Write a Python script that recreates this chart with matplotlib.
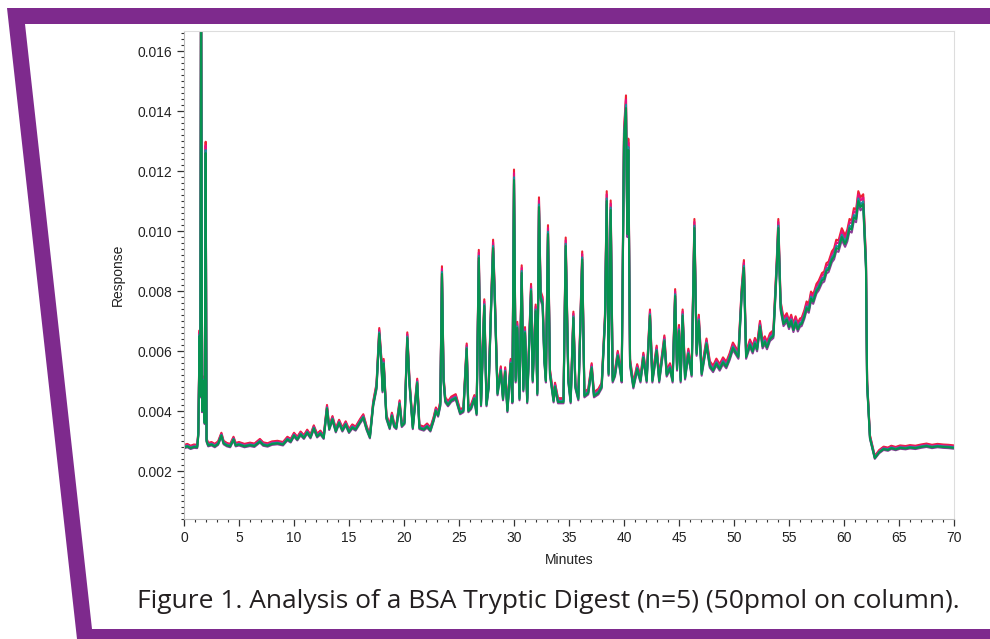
# -*- coding: utf-8 -*-

# import modules
import numpy as np
import matplotlib
matplotlib.use('Agg')
import matplotlib.pyplot as plt
from matplotlib.patches import Polygon
from matplotlib.ticker import MultipleLocator, FormatStrFormatter

plt.rcParams['font.family'] = ['Liberation Sans', 'DejaVu Sans']

# retention time (minutes) and detector response
minutes = [0.0, 0.3, 0.6, 0.9, 1.2, 1.3, 1.42, 1.48, 1.55, 1.65, 1.73, 1.88, 1.97, 2.05, 2.2,
           2.5, 2.8, 3.1, 3.4, 3.6, 3.9, 4.2, 4.5, 4.7, 5.0, 5.5, 6.0, 6.4, 6.9, 7.2, 7.6,
           8.0, 8.5, 9.0, 9.4, 9.7, 10.0, 10.3, 10.6, 10.9, 11.2, 11.5, 11.8, 12.1, 12.4,
           12.7, 13.0, 13.2, 13.5, 13.8, 14.1, 14.4, 14.7, 15.0, 15.3, 15.6, 16.0, 16.3,
           16.6, 16.9, 17.2, 17.5, 17.75, 17.95, 18.05, 18.15, 18.4, 18.7, 18.9, 19.1,
           19.3, 19.6, 19.8, 20.05, 20.3, 20.5, 20.8, 21.2, 21.4, 21.8, 22.1, 22.4, 22.7,
           22.9, 23.1, 23.3, 23.45, 23.6, 23.75, 24.0, 24.3, 24.7, 25.1, 25.4, 25.7, 25.85,
           26.1, 26.4, 26.6, 26.8, 27.0, 27.3, 27.5, 27.7, 27.9, 28.1, 28.25, 28.5, 28.8,
           29.0, 29.2, 29.4, 29.7, 29.85, 30.0, 30.15, 30.3, 30.5, 30.7, 30.85, 31.0, 31.2,
           31.55, 31.7, 31.97, 32.12, 32.27, 32.42, 32.6, 32.76, 32.9, 33.09, 33.27, 33.6,
           33.73, 34.0, 34.5, 34.7, 34.94, 35.15, 35.4, 35.58, 35.85, 36.2, 36.4, 36.75,
           37.06, 37.27, 37.67, 37.97, 38.27, 38.43, 38.6, 38.79, 38.97, 39.18, 39.43,
           39.64, 39.79, 40.0, 40.18, 40.3, 40.39, 40.55, 40.85, 41.2, 41.5, 41.76, 42.06,
           42.36, 42.58, 42.97, 43.2, 43.67, 43.88, 44.18, 44.42, 44.65, 44.82, 45.0,
           45.15, 45.33, 45.55, 45.85, 46.15, 46.4, 46.6, 46.8, 47.06, 47.5, 47.8, 48.1,
           48.4, 48.7, 49.0, 49.3, 49.6, 49.9, 50.4, 50.7, 50.9, 51.1, 51.45, 51.7, 51.9,
           52.1, 52.36, 52.6, 52.8, 53.0, 53.27, 53.58, 53.9, 54.03, 54.24, 54.5, 54.8,
           55.0, 55.2, 55.4, 55.6, 55.8, 56.0, 56.15, 56.4, 56.6, 56.8, 57.0, 57.2, 57.5,
           57.7, 58.0, 58.2, 58.4, 58.6, 58.9, 59.1, 59.3, 59.5, 59.8, 60.1, 60.3, 60.5,
           60.7, 60.9, 61.1, 61.3, 61.5, 61.75, 62.0, 62.1, 62.36, 62.8, 63.2, 63.6, 64.0,
           64.3, 64.7, 65.1, 65.6, 66.0, 66.5, 67.0, 67.5, 68.0, 68.5, 69.0, 69.5, 70.0]

response = [0.00278, 0.00282, 0.00276, 0.00280, 0.00279, 0.00320, 0.00650, 0.00450, 0.01900,
            0.00400, 0.00500, 0.00360, 0.01260, 0.00300, 0.00285,
            0.00288, 0.00282, 0.00290, 0.00318, 0.00292, 0.00285, 0.00282, 0.00305, 0.00285,
            0.00288, 0.00282, 0.00286, 0.00283, 0.00298, 0.00287, 0.00284,
            0.00290, 0.00292, 0.00288, 0.00305, 0.00298, 0.00318, 0.00305, 0.00322, 0.00310,
            0.00328, 0.00312, 0.00342, 0.00315, 0.00325,
            0.00310, 0.00408, 0.00340, 0.00372, 0.00332, 0.00360, 0.00335, 0.00355, 0.00330,
            0.00345, 0.00338, 0.00362, 0.00378,
            0.00340, 0.00312, 0.00420, 0.00477, 0.00657, 0.00557, 0.00467, 0.00557, 0.00377,
            0.00343, 0.00383, 0.00350,
            0.00343, 0.00423, 0.00350, 0.00360, 0.00643, 0.00490, 0.00343, 0.00493, 0.00343,
            0.00338, 0.00348, 0.00335, 0.00370,
            0.00400, 0.00385, 0.00420, 0.00857, 0.00500, 0.00433, 0.00420, 0.00435, 0.00443,
            0.00393, 0.00400, 0.00607, 0.00400,
            0.00410, 0.00440, 0.00390, 0.00910, 0.00420, 0.00750, 0.00420, 0.00480, 0.00723,
            0.00943, 0.00777, 0.00457, 0.00533,
            0.00440, 0.00530, 0.00400, 0.00557, 0.00430, 0.01170, 0.00500, 0.00677, 0.00440,
            0.00860, 0.00470, 0.00660, 0.00430,
            0.00800, 0.00500, 0.00733, 0.00457, 0.01080, 0.00777, 0.00757, 0.00567, 0.00500,
            0.00990, 0.00523, 0.00433,
            0.00480, 0.00430, 0.00430, 0.00950, 0.00500, 0.00430, 0.00710, 0.00480, 0.00440,
            0.00905, 0.00450, 0.00460,
            0.00543, 0.00450, 0.00460, 0.00480, 0.00700, 0.01100, 0.00523, 0.01070, 0.00500,
            0.00520, 0.00583,
            0.00540, 0.00500, 0.01300, 0.01410, 0.00990, 0.01270, 0.00557, 0.00480, 0.00540,
            0.00500, 0.00577, 0.00500,
            0.00717, 0.00500, 0.00600, 0.00500, 0.00633, 0.00520, 0.00543, 0.00500, 0.00783,
            0.00540, 0.00667,
            0.00500, 0.00717, 0.00510, 0.00590, 0.00520, 0.01010, 0.00590, 0.00700, 0.00523,
            0.00623, 0.00550, 0.00535,
            0.00558, 0.00540, 0.00562, 0.00548, 0.00575, 0.00610, 0.00580, 0.00790, 0.00877,
            0.00580, 0.00620, 0.00598, 0.00625,
            0.00605, 0.00680, 0.00615, 0.00630, 0.00612, 0.00640, 0.00650, 0.00890, 0.01010,
            0.00743, 0.00690, 0.00705,
            0.00680, 0.00700, 0.00670, 0.00695, 0.00672, 0.00688, 0.00690, 0.00715, 0.00743,
            0.00735, 0.00775, 0.00765, 0.00800,
            0.00810, 0.00835, 0.00840, 0.00867, 0.00872, 0.00905, 0.00915, 0.00943, 0.00940,
            0.00980, 0.00957, 0.00975, 0.01010,
            0.01005, 0.01045, 0.01040, 0.01100, 0.01080, 0.01090, 0.00877, 0.00490, 0.00310,
            0.00243, 0.00262, 0.00273, 0.00270,
            0.00276, 0.00272, 0.00277, 0.00275, 0.00278, 0.00276, 0.00280, 0.00283, 0.00279,
            0.00282, 0.00280, 0.00279, 0.00277]

# five replicate injections: small gain differences between runs
run_names = ['Run 1', 'Run 2', 'Run 3', 'Run 4', 'Run 5']
run_gain = [1.03, 1.02, 0.99, 1.008, 1.00]
run_colors = ['#ee2233', '#e5127d', '#8e3b97', '#1b8fa0', '#06924f']

y_ticks = [0.002, 0.004, 0.006, 0.008, 0.010, 0.012, 0.014, 0.016]
caption = 'Figure 1. Analysis of a BSA Tryptic Digest (n=5) (50pmol on column).'


fig = plt.figure(figsize=(9.9, 6.39), dpi=100)

"""Purple frame drawn in pixel coordinates on an overlay axes"""
frame = fig.add_axes([0, 0, 1, 1])
frame.set_xlim(0, 990)
frame.set_ylim(639, 0)
frame.axis('off')
purple = '#7e2a8d'
frame.add_patch(Polygon([(7, 8), (990, 8), (990, 24), (25, 24), (92, 629), (990, 629),
                         (990, 639), (77, 639)], closed=True, color=purple, lw=0))

"""Chromatogram"""
ax = fig.add_axes([184 / 990, 1 - 519 / 639, 770 / 990, 488 / 639])
t = np.array(minutes)
r = np.array(response)
for name, g, c in zip(run_names, run_gain, run_colors):
    ax.plot(t, r * g, color=c, lw=1.5, label=name)

ax.set_xlim(0, 70)
ax.set_ylim(0.0004, 0.01667)
ax.set_yticks(y_ticks)
ax.yaxis.set_major_formatter(FormatStrFormatter('%.3f'))
ax.xaxis.set_major_locator(MultipleLocator(5))
ax.xaxis.set_minor_locator(MultipleLocator(1))
ax.yaxis.set_minor_locator(MultipleLocator(0.0002))
ax.tick_params(which='major', direction='out', length=5, width=0.9, color='#333333',
               labelsize=10, labelcolor='#222222')
ax.tick_params(which='minor', direction='out', length=2.5, width=0.8, color='#333333')
for side in ['top', 'right']:
    ax.spines[side].set_color('#dddddd')
for side in ['left', 'bottom']:
    ax.spines[side].set_color('#bbbbbb')
ax.set_xlabel('Minutes', fontsize=10, color='#222222', labelpad=6)
ax.set_ylabel('Response', fontsize=10, color='#222222', labelpad=9)

fig.text(137 / 990, 1 - 602 / 639, caption, family='Open Sans', fontsize=19,
         color='#231f20', ha='left', va='center')

plt.savefig('out.png', dpi=100)
